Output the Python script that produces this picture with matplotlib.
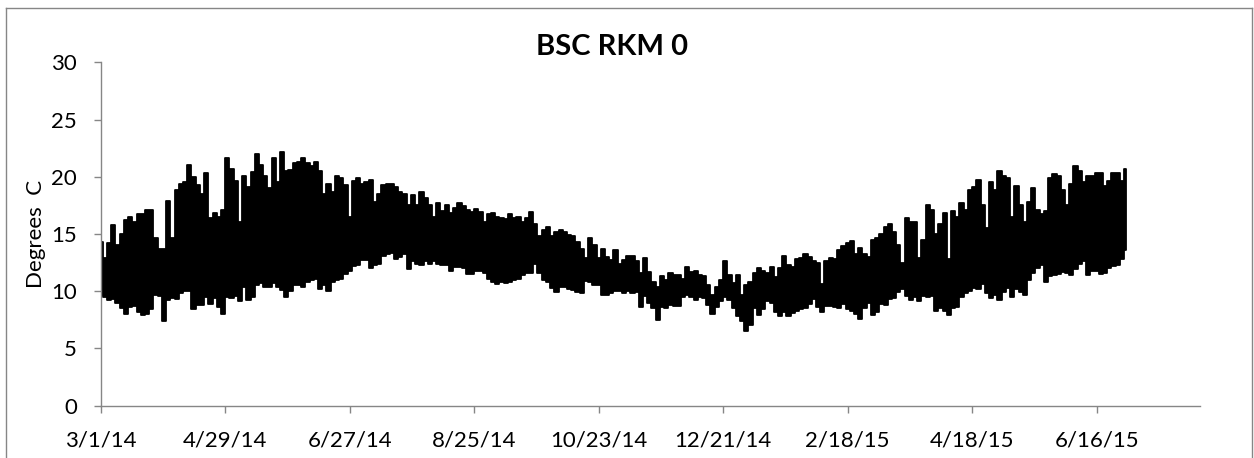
import matplotlib
matplotlib.use("Agg")
import matplotlib.pyplot as plt
import matplotlib.dates as mdates
from matplotlib.lines import Line2D
import numpy as np
import datetime as dt

# ---- data (one sample every 2 days from 3/1/14) ----
start_date = dt.date(2014, 3, 1)
step_days = 2

daily_max = [
    14.3, 12.9, 14.2, 15.8, 14.0, 15.0, 16.2, 16.5, 16.0, 16.7, 16.7, 17.1, 17.1, 14.6, 13.7, 13.7,
    17.9, 14.6, 18.8, 19.4, 19.5, 21.0, 20.0, 19.3, 18.5, 20.3, 16.4, 16.8, 16.5, 17.1, 21.6,
    20.7, 19.6, 16.0, 20.1, 19.1, 20.4, 22.0, 21.0, 20.1, 19.0, 21.6, 19.5, 22.2, 20.5, 20.6, 21.2,
    21.3, 21.6, 21.2, 20.9, 21.3, 20.5, 18.5, 19.4, 18.7, 20.1, 19.9, 19.3, 16.5, 19.6, 19.9,
    19.4, 19.5, 19.7, 17.8, 18.5, 19.3, 19.4, 19.4, 19.1, 18.7, 18.5, 17.5, 18.4, 17.5, 18.7, 18.1,
    17.5, 16.5, 17.7, 17.0, 17.5, 16.8, 17.3, 17.7, 17.4, 17.1, 16.9, 17.2, 16.9, 16.0, 16.7,
    16.8, 16.5, 16.4, 16.3, 16.7, 16.4, 16.5, 16.0, 16.4, 16.9, 15.9, 14.8, 15.3, 15.6, 14.8,
    15.2, 15.3, 15.2, 14.9, 14.8, 14.3, 13.7, 12.9, 14.6, 14.0, 12.9, 13.7, 13.0, 12.7, 13.6,
    12.4, 12.7, 13.1, 13.1, 12.6, 11.6, 12.9, 11.7, 10.8, 10.4, 11.3, 11.0, 11.6, 11.4, 11.4, 11.1,
    12.1, 11.7, 11.8, 11.4, 11.3, 10.5, 9.7, 10.4, 11.0, 12.6, 11.4, 10.7, 11.4, 9.7, 10.5,
    10.8, 11.6, 12.0, 11.8, 11.6, 12.1, 11.2, 12.0, 13.1, 12.3, 12.1, 12.8, 12.9, 13.2, 13.0, 12.6,
    12.5, 10.6, 12.6, 12.9, 12.8, 13.6, 13.9, 14.2, 14.4, 13.2, 13.8, 13.2, 13.0, 14.5, 14.6,
    15.0, 15.6, 15.9, 15.2, 14.0, 12.5, 16.4, 16.0, 16.0, 12.9, 14.5, 17.5, 17.1, 15.0, 15.9, 16.8,
    12.8, 17.0, 16.5, 17.7, 17.1, 18.8, 19.1, 19.7, 17.5, 15.5, 19.5, 18.8, 20.5, 20.1, 19.9,
    16.5, 19.2, 17.5, 16.0, 17.8, 19.0, 17.1, 16.7, 17.0, 19.9, 20.2, 20.1, 18.8, 17.5, 19.4,
    20.9, 20.5, 19.5, 20.1, 20.1, 20.3, 20.3, 19.2, 19.6, 20.3, 20.3, 19.6, 20.7,
]

daily_min = [
    9.7, 9.5, 9.2, 9.3, 9.0, 8.5, 8.0, 8.6, 8.7, 8.2, 7.9, 8.0, 8.4, 9.7, 9.6, 7.4,
    9.2, 9.4, 9.3, 9.8, 10.0, 10.0, 8.4, 8.8, 8.8, 9.5, 8.9, 9.4, 8.6, 8.0, 9.5,
    9.4, 9.6, 9.1, 10.4, 9.2, 9.5, 10.5, 10.7, 10.4, 10.4, 10.7, 10.4, 10.1, 9.5, 10.0, 10.5,
    10.5, 10.4, 10.8, 11.0, 11.1, 10.2, 10.5, 10.0, 10.8, 11.0, 11.1, 11.5, 11.8, 12.2, 12.3,
    12.7, 12.7, 12.0, 12.3, 12.4, 13.1, 13.2, 13.3, 12.8, 13.0, 13.2, 11.9, 12.6, 12.4, 12.3, 12.6,
    12.4, 12.6, 12.4, 12.3, 12.3, 11.8, 12.1, 12.1, 12.0, 11.5, 11.5, 11.8, 11.8, 11.6, 11.1,
    10.8, 10.6, 10.8, 10.7, 10.8, 11.0, 11.1, 11.4, 11.6, 11.6, 12.4, 11.6, 11.0, 10.8, 10.3,
    9.9, 10.4, 10.4, 10.2, 10.1, 9.9, 9.8, 10.9, 10.8, 10.5, 10.5, 9.7, 9.7, 9.8, 10.0,
    10.0, 9.8, 10.0, 9.8, 9.9, 8.6, 9.6, 9.0, 8.5, 7.5, 8.6, 8.5, 8.8, 8.7, 8.7, 9.5,
    9.7, 9.5, 9.2, 9.5, 9.4, 8.8, 8.0, 8.6, 9.1, 9.5, 9.2, 8.5, 7.8, 7.4, 6.5,
    7.0, 8.5, 7.9, 8.4, 9.1, 9.0, 8.2, 7.8, 8.2, 7.8, 8.1, 8.3, 8.4, 8.5, 8.9, 9.3,
    8.6, 8.2, 8.7, 8.7, 8.6, 8.5, 8.9, 8.4, 8.3, 8.0, 7.6, 8.5, 9.0, 7.9, 8.2,
    8.9, 8.8, 9.3, 9.4, 9.9, 10.2, 9.6, 9.2, 9.5, 9.1, 9.6, 9.5, 9.6, 8.3, 8.5, 8.3,
    7.9, 8.5, 8.6, 9.5, 9.8, 10.0, 10.3, 10.2, 10.6, 9.8, 9.4, 9.7, 9.2, 9.9, 10.3,
    9.5, 10.2, 9.9, 9.7, 11.0, 11.6, 12.0, 12.3, 10.8, 11.3, 11.4, 11.5, 11.7, 11.6, 11.4,
    11.9, 12.4, 12.6, 11.4, 11.8, 11.8, 11.5, 11.6, 12.0, 12.2, 12.3, 12.8, 13.6,
]

tick_labels = ["3/1/14", "4/29/14", "6/27/14", "8/25/14", "10/23/14",
               "12/21/14", "2/18/15", "4/18/15", "6/16/15"]
axis_end_label = "8/4/15"

title = "BSC RKM 0"
ylabel = "Degrees  C"

# ---- figure ----
W, H, DPI = 1254, 458, 100
fig = plt.figure(figsize=(W / DPI, H / DPI), dpi=DPI)
fig.patch.set_facecolor("white")

font = "Lato"
grey = "#868686"

ax = fig.add_axes([100.7 / W, 1 - 405.5 / H, (1200 - 100.7) / W, (405.5 - 62.3) / H])

dates = [start_date + dt.timedelta(days=step_days * i) for i in range(len(daily_max))]
xs = mdates.date2num(dates)
ax.fill_between(xs, daily_min, daily_max, step="mid", facecolor="black",
                edgecolor="black", linewidth=1.3)

tick_dates = [dt.datetime.strptime(s, "%m/%d/%y").date() for s in tick_labels]
ax.set_xticks(mdates.date2num(tick_dates))
ax.set_xticklabels(tick_labels)
x_end = mdates.date2num(dt.datetime.strptime(axis_end_label, "%m/%d/%y").date())
ax.set_xlim(mdates.date2num(start_date), x_end)

ax.set_ylim(0, 30)
ax.set_yticks(np.arange(0, 31, 5))

for s in ["top", "right"]:
    ax.spines[s].set_visible(False)
for s in ["left", "bottom"]:
    ax.spines[s].set_color(grey)
    ax.spines[s].set_linewidth(1.0)

ax.tick_params(axis="both", direction="out", color=grey, width=1.0, length=5,
               labelsize=16, labelcolor="black")
ax.tick_params(axis="y", pad=12)
ax.tick_params(axis="x", pad=13)
for lab in ax.get_xticklabels() + ax.get_yticklabels():
    lab.set_fontfamily(font)

ax.set_ylabel(ylabel, fontsize=16, fontfamily=font, labelpad=4)

fig.text(612 / W, 1 - 47 / H, title, ha="center", va="center",
         fontsize=21, fontweight="bold", fontfamily=font)

# chart-area border (left, top, right visible)
x0, x1 = 6 / W, 1251.5 / W
y1 = 1 - 8 / H
fig.add_artist(Line2D([x0, x0], [0, y1], transform=fig.transFigure, color=grey, lw=1.0))
fig.add_artist(Line2D([x0, x1], [y1, y1], transform=fig.transFigure, color=grey, lw=1.0))
fig.add_artist(Line2D([x1, x1], [0, y1], transform=fig.transFigure, color=grey, lw=1.0))

fig.savefig("out.png", dpi=DPI, facecolor="white")
